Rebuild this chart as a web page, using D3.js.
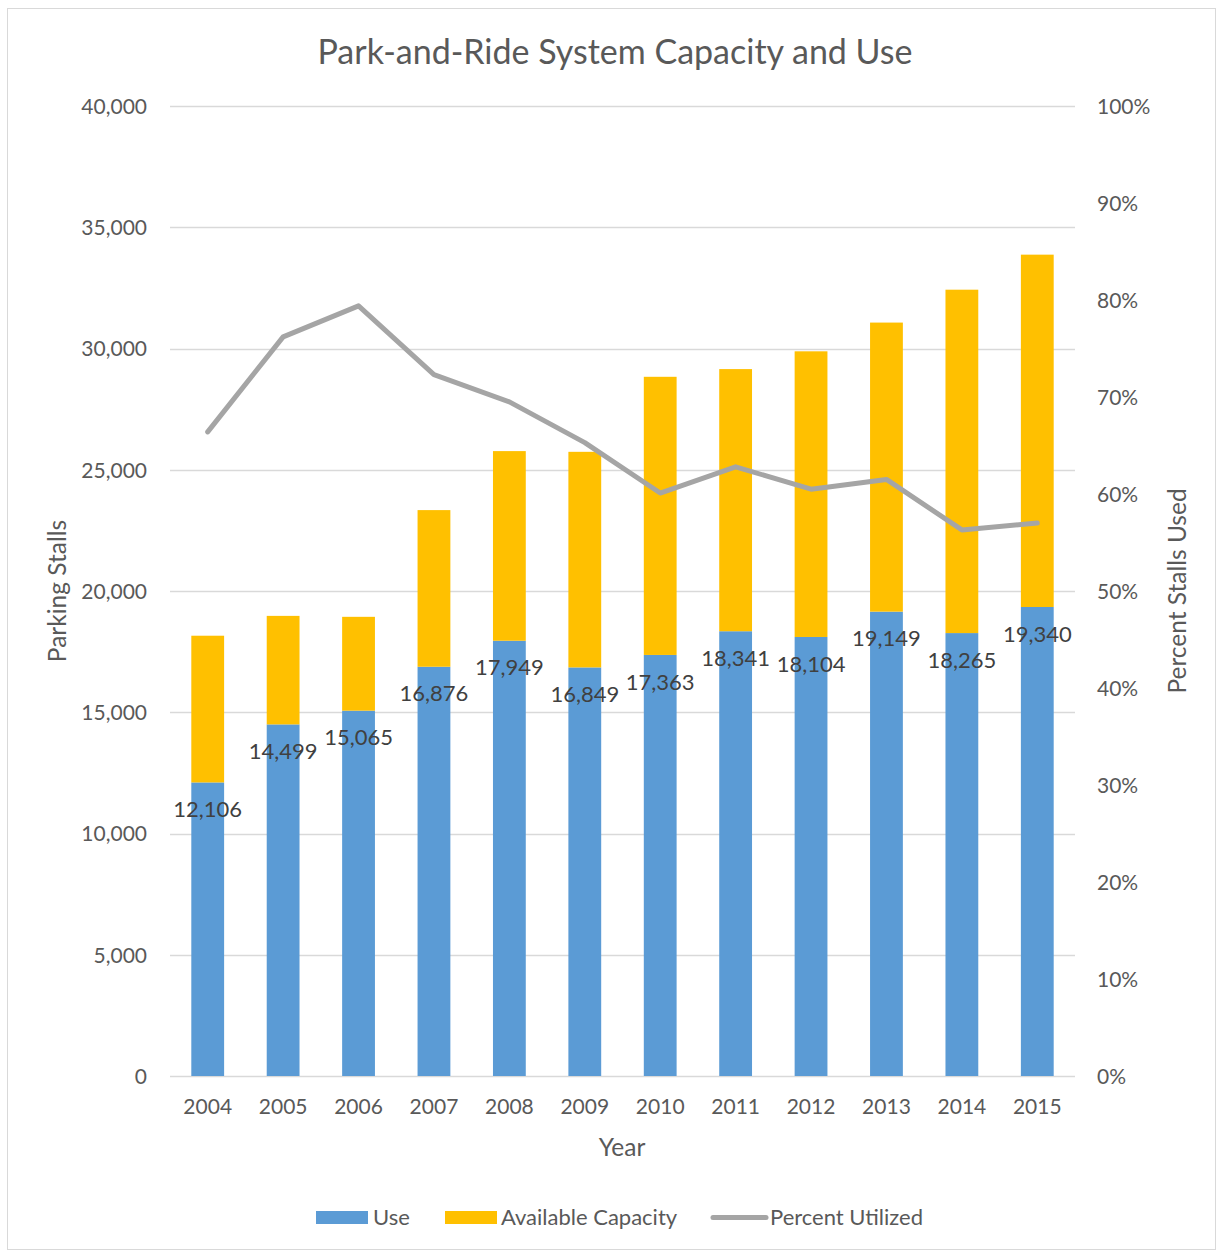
<!DOCTYPE html>
<html>
<head>
<meta charset="utf-8">
<title>Park-and-Ride System Capacity and Use</title>
<script src="https://cdn.jsdelivr.net/npm/d3@7"></script>
<style>
  body { margin: 0; background: #fff; }
  svg text { font-family: Lato, "Open Sans", sans-serif; fill: #595959; }
</style>
</head>
<body>
<script>
// data
var years = ["2004","2005","2006","2007","2008","2009","2010","2011","2012","2013","2014","2015"];
var useVals = [12106, 14499, 15065, 16876, 17949, 16849, 17363, 18341, 18104, 19149, 18265, 19340];
var availVals = [6050, 4475, 3870, 6460, 7820, 8890, 11470, 10810, 11780, 11920, 14160, 14530];
var pctVals = [66.4, 76.2, 79.4, 72.3, 69.5, 65.3, 60.1, 62.8, 60.5, 61.5, 56.3, 57.0];
var leftTicks = [0, 5000, 10000, 15000, 20000, 25000, 30000, 35000, 40000];
var rightTicks = [0, 10, 20, 30, 40, 50, 60, 70, 80, 90, 100];

var W = 1217, H = 1251;
var plotLeft = 170, plotRight = 1075, plotTop = 106, plotBottom = 1076;
var blue = "#5B9BD5", gold = "#FFC000", gray = "#A5A5A5", grid = "#D9D9D9";

var svg = d3.select("body").append("svg")
    .attr("width", W)
    .attr("height", H);

svg.append("rect")
    .attr("x", 7.5).attr("y", 8.5)
    .attr("width", W - 9).attr("height", H - 10)
    .attr("fill", "#fff")
    .attr("stroke", grid);

var x = d3.scaleBand()
    .domain(years)
    .range([plotLeft, plotRight])
    .paddingInner(0.565)
    .paddingOuter(0.2825);

var y = d3.scaleLinear().domain([0, 40000]).range([plotBottom, plotTop]);
var y2 = d3.scaleLinear().domain([0, 100]).range([plotBottom, plotTop]);

// gridlines
svg.append("g").selectAll("line")
    .data(leftTicks)
  .enter().append("line")
    .attr("x1", plotLeft).attr("x2", plotRight)
    .attr("y1", function(d){ return Math.round(y(d)) + 0.5; })
    .attr("y2", function(d){ return Math.round(y(d)) + 0.5; })
    .attr("stroke", grid)
    .attr("stroke-width", 1.5);

// left axis
var yAxis = d3.axisLeft(y).tickValues(leftTicks).tickSize(0).tickPadding(0)
    .tickFormat(d3.format(","));
var gl = svg.append("g").attr("transform", "translate(147,0)").call(yAxis);
gl.select(".domain").remove();
gl.selectAll("text").attr("font-size", 21).attr("dy", "0.35em");

// right axis
var yAxis2 = d3.axisRight(y2).tickValues(rightTicks).tickSize(0).tickPadding(0)
    .tickFormat(function(d){ return d + "%"; });
var gr = svg.append("g").attr("transform", "translate(1097,0)").call(yAxis2);
gr.select(".domain").remove();
gr.selectAll("text").attr("font-size", 21).attr("dy", "0.35em");

// bottom axis
var xAxis = d3.axisBottom(x).tickSize(0).tickPadding(0);
var gx = svg.append("g").attr("transform", "translate(0,1107)").call(xAxis);
gx.select(".domain").remove();
gx.selectAll("text").attr("font-size", 21).attr("dy", "0.35em");

// stacked bars
var stackData = years.map(function(yr, i){
    return { year: yr, use: useVals[i], avail: availVals[i] };
});
var series = d3.stack().keys(["use", "avail"])(stackData);
var colors = { use: blue, avail: gold };

svg.append("g").selectAll("g")
    .data(series)
  .enter().append("g")
    .attr("fill", function(s){ return colors[s.key]; })
  .selectAll("rect")
    .data(function(s){ return s; })
  .enter().append("rect")
    .attr("x", function(d){ return x(d.data.year); })
    .attr("width", x.bandwidth())
    .attr("y", function(d){ return y(d[1]); })
    .attr("height", function(d){ return y(d[0]) - y(d[1]); });

// percent line
var line = d3.line()
    .x(function(d, i){ return x(years[i]) + x.bandwidth() / 2; })
    .y(function(d){ return y2(d); });

svg.append("path")
    .datum(pctVals)
    .attr("d", line)
    .attr("fill", "none")
    .attr("stroke", gray)
    .attr("stroke-width", 5)
    .attr("stroke-linejoin", "round")
    .attr("stroke-linecap", "round");

// data labels for use
svg.append("g").selectAll("text")
    .data(useVals)
  .enter().append("text")
    .attr("x", function(d, i){ return x(years[i]) + x.bandwidth() / 2; })
    .attr("y", function(d){ return y(d) + 27; })
    .attr("dy", "0.35em")
    .attr("text-anchor", "middle")
    .attr("font-size", 22)
    .style("fill", "#404040")
    .text(d3.format(","));

// titles
svg.append("text")
    .attr("x", 615).attr("y", 52)
    .attr("dy", "0.35em")
    .attr("text-anchor", "middle")
    .attr("font-size", 34)
    .text("Park-and-Ride System Capacity and Use");

svg.append("text")
    .attr("x", 622).attr("y", 1147)
    .attr("dy", "0.35em")
    .attr("text-anchor", "middle")
    .attr("font-size", 24.5)
    .text("Year");

svg.append("text")
    .attr("transform", "translate(57,591) rotate(-90)")
    .attr("dy", "0.35em")
    .attr("text-anchor", "middle")
    .attr("font-size", 24.5)
    .text("Parking Stalls");

svg.append("text")
    .attr("transform", "translate(1177,591) rotate(-90)")
    .attr("dy", "0.35em")
    .attr("text-anchor", "middle")
    .attr("font-size", 24.5)
    .text("Percent Stalls Used");

// legend
var legend = svg.append("g").attr("transform", "translate(0,1217)");
var items = [
    { name: "Use", color: blue, type: "rect", x: 316, tx: 373 },
    { name: "Available Capacity", color: gold, type: "rect", x: 445, tx: 501 },
    { name: "Percent Utilized", color: gray, type: "line", x: 713, tx: 770 }
];
items.forEach(function(it){
    if (it.type === "rect") {
        legend.append("rect")
            .attr("x", it.x).attr("y", -6)
            .attr("width", 52).attr("height", 13)
            .attr("fill", it.color);
    } else {
        legend.append("line")
            .attr("x1", it.x).attr("x2", it.x + 53)
            .attr("y1", 0.5).attr("y2", 0.5)
            .attr("stroke", it.color)
            .attr("stroke-width", 5)
            .attr("stroke-linecap", "round");
    }
    legend.append("text")
        .attr("x", it.tx).attr("y", 0)
        .attr("dy", "0.35em")
        .attr("font-size", 22)
        .text(it.name);
});
</script>
</body>
</html>
